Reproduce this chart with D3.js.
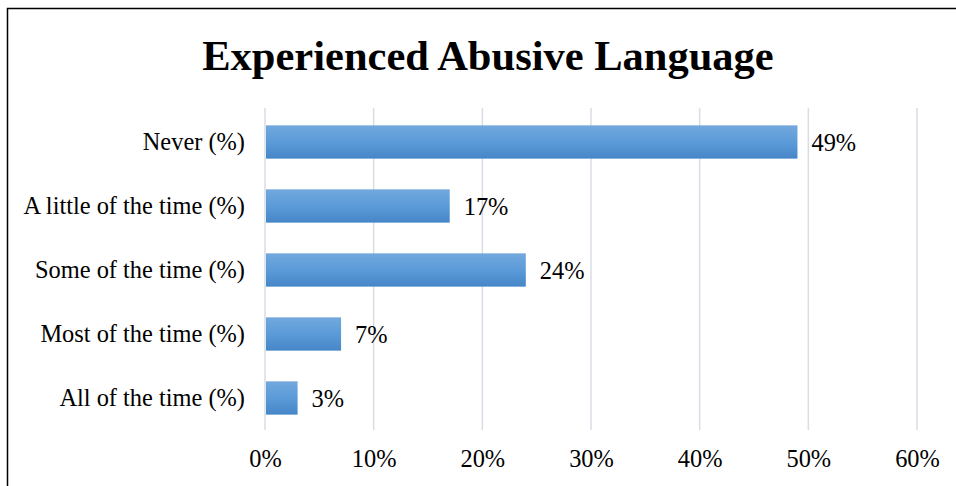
<!DOCTYPE html>
<html>
<head>
<meta charset="utf-8">
<script src="https://cdn.jsdelivr.net/npm/d3@7"></script>
<style>
  html, body { margin: 0; padding: 0; background: #fff; }
  svg { display: block; }
  text { font-family: "Liberation Serif", "Times New Roman", serif; fill: #000; }
</style>
</head>
<body>
<svg id="chart" width="956" height="486"></svg>
<script>
// Survey responses: how often abusive language was experienced
const categories = ["Never (%)", "A little of the time (%)", "Some of the time (%)", "Most of the time (%)", "All of the time (%)"];
const percentages = [49, 17, 24, 7, 3];
const tickValues = [0, 10, 20, 30, 40, 50, 60];
const chartTitle = "Experienced Abusive Language";

const svg = d3.select("#chart");
const W = 956, H = 486;
const labelSize = "24.4px";

// Outer frame (runs off the right and bottom edges)
svg.append("rect")
  .attr("x", 7.5).attr("y", 8.5)
  .attr("width", W + 20).attr("height", H + 20)
  .attr("fill", "#fff").attr("stroke", "#000").attr("stroke-width", 1.5);

const plot = { left: 265, right: 917, top: 110, bottom: 430 };

const x = d3.scaleLinear().domain([0, 60]).range([plot.left, plot.right]);
const y = d3.scaleBand().domain(categories).range([plot.top, plot.bottom]).paddingInner(0.48).paddingOuter(0.24);

// Gradient fill for the bars
const defs = svg.append("defs");
const grad = defs.append("linearGradient").attr("id", "barFill")
  .attr("x1", 0).attr("y1", 0).attr("x2", 0).attr("y2", 1);
grad.append("stop").attr("offset", "0%").attr("stop-color", "#72a8dd");
grad.append("stop").attr("offset", "50%").attr("stop-color", "#5b9bd9");
grad.append("stop").attr("offset", "100%").attr("stop-color", "#4686c8");

// Vertical gridlines
svg.append("g")
  .selectAll("line")
  .data(tickValues)
  .join("line")
  .attr("x1", d => x(d)).attr("x2", d => x(d))
  .attr("y1", plot.top - 2).attr("y2", plot.bottom)
  .attr("stroke", "#d9dde6").attr("stroke-width", 1.5);

// Bottom axis labels
const xAxis = d3.axisBottom(x).tickValues(tickValues).tickFormat(d => d + "%").tickSize(0).tickPadding(20);
const gx = svg.append("g").attr("transform", `translate(0,${plot.bottom})`).call(xAxis);
gx.select(".domain").remove();
gx.selectAll("text").style("font-size", labelSize).style("font-family", "Liberation Serif, serif").attr("fill", "#000");

// Left category labels
const yAxis = d3.axisLeft(y).tickSize(0).tickPadding(20);
const gy = svg.append("g").attr("transform", `translate(${plot.left},0)`).call(yAxis);
gy.select(".domain").remove();
gy.selectAll("text").style("font-size", labelSize).style("font-family", "Liberation Serif, serif").attr("fill", "#000");

// Bars
svg.append("g")
  .selectAll("rect")
  .data(percentages)
  .join("rect")
  .attr("x", x(0) + 1)
  .attr("y", (d, i) => y(categories[i]))
  .attr("width", d => x(d) - x(0) - 1)
  .attr("height", y.bandwidth())
  .attr("fill", "url(#barFill)");

// Value labels
svg.append("g")
  .selectAll("text")
  .data(percentages)
  .join("text")
  .attr("x", d => x(d) + 14)
  .attr("y", (d, i) => y(categories[i]) + y.bandwidth() / 2)
  .attr("dy", "0.35em")
  .style("font-size", labelSize)
  .text(d => d + "%");

// Title
svg.append("text")
  .attr("x", 488).attr("y", 70)
  .attr("text-anchor", "middle")
  .style("font-size", "42.5px").style("font-weight", "bold")
  .text(chartTitle);
</script>
</body>
</html>
